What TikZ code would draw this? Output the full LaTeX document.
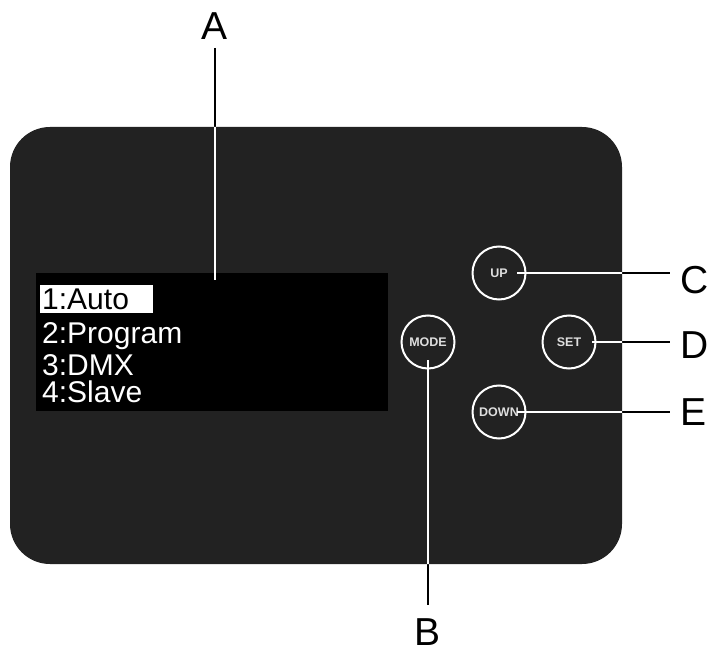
\documentclass[tikz,border=0pt]{standalone}
\usepackage{fontspec}
\setmainfont{Liberation Sans}
\definecolor{panelgray}{RGB}{34,34,34}
\definecolor{btntext}{RGB}{222,222,222}
\begin{document}
\begin{tikzpicture}[x=1pt,y=-1pt,
  lbl/.style={font=\fontsize{39}{39}\selectfont, inner sep=0pt},
  scr/.style={font=\fontsize{30}{30}\selectfont, text=white, anchor=base west, inner sep=0pt},
  btn/.style={circle, draw=white, line width=2pt, fill=panelgray, minimum size=53pt, inner sep=0pt, text=btntext, font=\bfseries\fontsize{12.5}{12.5}\selectfont},
  lead/.style={line width=2pt}]
\useasboundingbox (0,0) rectangle (707,650);
\fill[white] (0,0) rectangle (707,650);
% panel
\fill[panelgray, rounded corners=40pt] (10,127) rectangle (622,564);
% display
\node[fill=black, anchor=north west, minimum width=352pt, minimum height=138pt, inner sep=0pt] (disp) at (36,273) {};
\node[fill=white, anchor=north west, minimum width=113pt, minimum height=28pt, inner sep=0pt] (hl) at (40,285) {};
\node[scr, text=black] (m1) at (42,309) {1:Auto};
\node[scr] (m2) at (42,343) {2:Program};
\node[scr] (m3) at (42,375) {3:DMX};
\node[scr] (m4) at (42,402) {4:Slave};
% buttons
\node[btn] (up) at (499,273) {UP};
\node[btn] (mode) at (428,342) {MODE};
\node[btn] (set) at (569,342) {SET};
\node[btn] (down) at (499,412) {DOWN};
% labels
\node[lbl, anchor=south] (A) at (215,40) {A};
\node[lbl, anchor=north] (B) at (428,618) {B};
\node[lbl, anchor=base west] (C) at (680,293) {C};
\node[lbl, anchor=base west] (D) at (680,358) {D};
\node[lbl, anchor=base west] (E) at (680,425) {E};
\coordinate (aend) at (215,280);
\coordinate (cend) at (670,273);
\coordinate (dend) at (670,342);
\coordinate (eend) at (670,412);
% leader lines (black outside the panel)
\draw[lead] ([yshift=-8pt]A.south) -- (aend);
\draw[lead] ([yshift=-18pt]mode.center) -- ([yshift=13pt]B.north);
\draw[lead] ([xshift=18pt]up.center) -- (cend);
\draw[lead] ([xshift=23pt]set.center) -- (dend);
\draw[lead] ([xshift=18pt]down.center) -- (eend);
% white parts inside the panel
\begin{scope}
\clip[rounded corners=40pt] (10,127) rectangle (622,564);
\draw[lead, white] ([yshift=-8pt]A.south) -- (aend);
\draw[lead, white] ([yshift=-18pt]mode.center) -- ([yshift=13pt]B.north);
\draw[lead, white] ([xshift=18pt]up.center) -- (cend);
\draw[lead, white] ([xshift=23pt]set.center) -- (dend);
\draw[lead, white] ([xshift=18pt]down.center) -- (eend);
\end{scope}
\end{tikzpicture}
\end{document}
